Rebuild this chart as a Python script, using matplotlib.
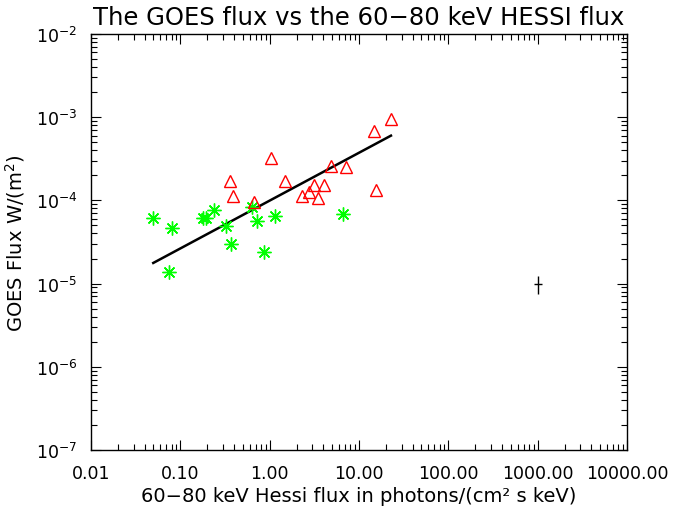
import numpy as np
import matplotlib
matplotlib.use("Agg")
import matplotlib.pyplot as plt

plt.rcParams['font.family'] = ['DejaVu Sans']
plt.rcParams['mathtext.fontset'] = 'dejavusans'

# green asterisks (60-80 keV flux, GOES flux)
green_x = [0.049, 0.081, 0.075, 0.178, 0.194, 0.238, 0.322, 0.369,
           0.639, 0.716, 0.871, 1.157, 6.67]
green_y = [6.1e-5, 4.6e-5, 1.39e-5, 6.1e-5, 6.1e-5, 7.7e-5, 4.9e-5, 3.0e-5,
           8.4e-5, 5.6e-5, 2.38e-5, 6.55e-5, 6.9e-5]

# red triangles
red_x = [22.8, 14.7, 1.03, 4.86, 7.16, 0.360, 1.485, 3.16, 4.06, 15.4,
         0.386, 2.30, 2.78, 3.45, 0.663]
red_y = [9.5e-4, 6.8e-4, 3.23e-4, 2.59e-4, 2.50e-4, 1.73e-4, 1.73e-4,
         1.53e-4, 1.53e-4, 1.35e-4, 1.14e-4, 1.14e-4, 1.25e-4, 1.06e-4, 9.6e-5]

# fitted power law end points
fit_x = [0.0498, 22.8]
fit_y = [1.77e-5, 6.0e-4]

# typical error cross
err_x = [1000.0]
err_y = [1.0e-5]
err_xlo, err_xhi = [98.0], [109.0]
err_ylo, err_yhi = [2.6e-6], [2.45e-6]

xticks = [0.01, 0.1, 1, 10, 100, 1000, 10000]
xticklabels = ['0.01', '0.10', '1.00', '10.00', '100.00', '1000.00', '10000.00']
yticks = [1e-7, 1e-6, 1e-5, 1e-4, 1e-3, 1e-2]
yticklabels = [r'$10^{-7}$', r'$10^{-6}$', r'$10^{-5}$', r'$10^{-4}$',
               r'$10^{-3}$', r'$10^{-2}$']

fig = plt.figure(figsize=(6.85, 5.10), dpi=100)
ax = fig.add_axes([0.1328, 0.1157, 0.7825, 0.8157])

ax.plot(fit_x, fit_y, color='black', lw=1.8)
ax.plot(green_x, green_y, ls='none', marker=(8, 2, 0), ms=10,
        mec=(0, 1, 0), mew=1.0)
ax.plot(red_x, red_y, ls='none', marker='^', ms=8.5, mfc='none',
        mec=(1, 0, 0), mew=1.0)
ax.errorbar(err_x, err_y, xerr=[err_xlo, err_xhi], yerr=[err_ylo, err_yhi],
            fmt='none', ecolor='black', elinewidth=1.0, capsize=0)

ax.set_xscale('log')
ax.set_yscale('log')
ax.set_xlim(0.01, 10000)
ax.set_ylim(1e-7, 1e-2)
ax.set_xticks(xticks)
ax.set_xticklabels(xticklabels)
ax.set_yticks(yticks)
ax.set_yticklabels(yticklabels)

ax.tick_params(which='both', direction='in', top=True, right=True,
               labelsize=12.5, width=0.8, color='black')
ax.tick_params(which='major', length=7.5, pad=10)
ax.tick_params(which='minor', length=4)
for s in ax.spines.values():
    s.set_linewidth(1.0)

ax.set_title('The GOES flux vs the 60\u221280 keV HESSI flux', fontsize=17.5, pad=7)
ax.set_xlabel('60\u221280 keV Hessi flux in photons/(cm\u00b2 s keV)', fontsize=14, labelpad=3)
ax.set_ylabel(r'GOES Flux W/(m$^2$)', fontsize=14, labelpad=6)

fig.savefig('out.png', dpi=100)
